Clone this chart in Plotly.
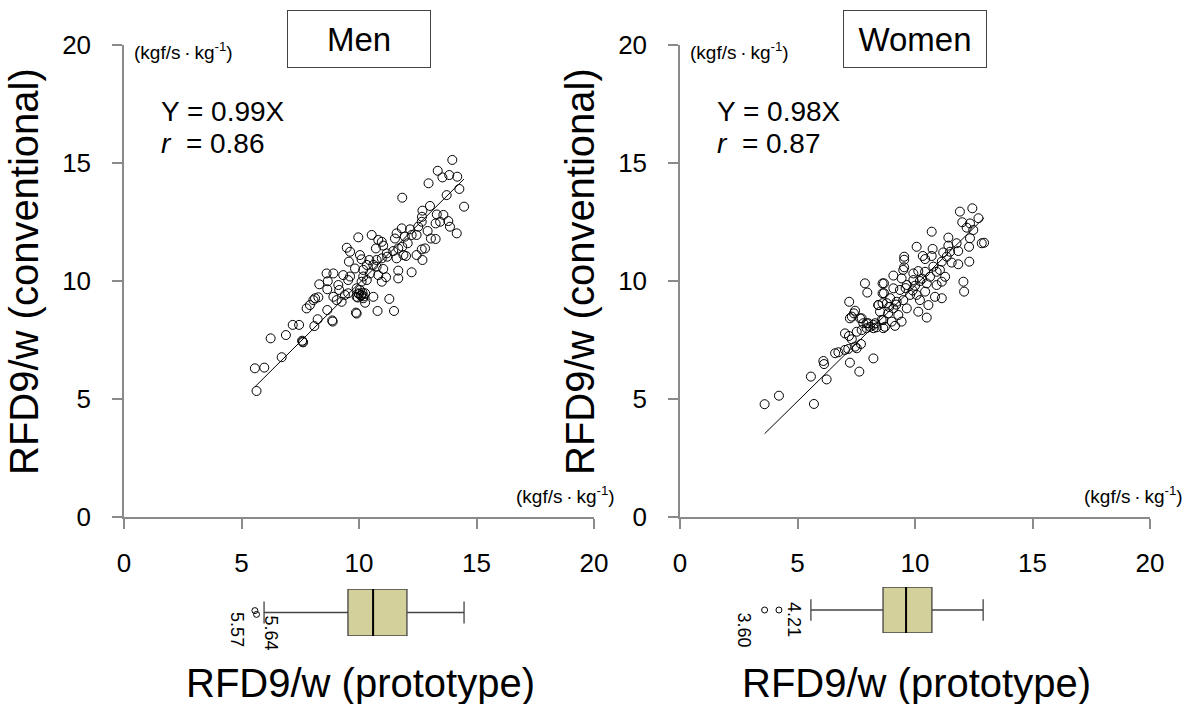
import plotly.graph_objects as go

FONT = "Liberation Sans, Arial, sans-serif"

# ---------------- data ----------------
men_x = [13.97, 13.35, 13.55, 13.84, 14.18, 12.96, 14.27, 13.73, 11.84, 14.47, 13.02, 12.7, 12.68, 12.67,
         13.31, 13.59, 13.26, 13.45, 13.8, 13.87, 14.16, 12.92, 13.06, 13.26, 12.52, 12.17, 12.24, 12.45,
         11.95, 11.82, 11.6, 11.53, 12.07, 11.84, 11.67, 11.46, 11.89, 12.67, 12.81, 12.45, 12.7, 12.0,
         11.6, 12.24, 11.67, 11.67, 11.18, 11.2, 10.97, 10.75, 10.54, 10.82, 10.97, 11.03, 10.72, 9.97,
         9.48, 9.62, 10.04, 10.11, 10.44, 10.61, 10.75, 10.33, 9.57, 9.83, 10.18, 10.47, 10.82, 11.03,
         10.97, 11.15, 10.18, 10.33, 10.11, 9.9, 10.04, 9.97, 10.11, 10.26, 9.9, 10.18, 10.61, 10.26,
         11.29, 10.79, 11.49, 9.87, 9.62, 9.33, 9.54, 8.62, 8.91, 8.67, 8.31, 9.12, 9.16, 8.65, 8.91,
         9.05, 9.26, 9.4, 9.54, 8.27, 8.06, 7.91, 7.77, 8.65, 8.24, 8.88, 8.1, 7.18, 7.45, 6.89, 6.24,
         7.6, 7.58, 7.62, 6.71, 5.57, 5.97, 5.64, 10.0, 10.08, 10.15, 9.95, 10.2, 8.13, 9.9, 8.86]
men_y = [15.13, 14.67, 14.39, 14.49, 14.42, 14.14, 13.9, 13.64, 13.53, 13.15, 13.18, 12.98, 12.72, 12.51,
         12.82, 12.8, 12.44, 12.51, 12.54, 12.3, 12.02, 12.12, 11.8, 11.78, 12.3, 12.19, 11.95, 11.95,
         11.88, 12.23, 12.02, 11.8, 11.6, 11.45, 11.38, 11.27, 11.1, 11.34, 11.38, 11.1, 10.89, 11.06,
         10.96, 10.37, 10.44, 10.11, 11.17, 11.03, 10.96, 10.89, 11.95, 11.74, 11.66, 11.5, 11.38, 11.85,
         11.41, 11.24, 11.1, 10.92, 10.89, 10.68, 10.61, 10.68, 10.82, 10.53, 10.47, 10.32, 10.25, 10.51,
         9.97, 10.16, 10.19, 10.04, 9.97, 9.69, 9.62, 9.48, 9.41, 9.48, 9.33, 9.27, 9.33, 9.08,
         9.24, 8.73, 8.73, 8.66, 10.19, 10.25, 10.04, 10.32, 10.32, 9.99, 9.86, 9.83, 9.62, 9.65, 9.33,
         9.19, 9.12, 9.41, 9.48, 9.31, 9.19, 8.98, 8.84, 8.77, 8.38, 8.28, 8.09, 8.14, 8.14, 7.71, 7.57,
         7.43, 7.47, 7.4, 6.77, 6.3, 6.33, 5.34, 9.45, 9.38, 9.5, 9.3, 9.35, 9.27, 8.62, 8.33]

women_x = [3.60, 4.21, 5.7, 5.57, 6.24, 6.1, 6.13, 6.6, 6.74, 7.02, 7.16, 7.23, 7.63, 8.23, 7.45, 7.7,
           7.52, 7.02, 7.19, 7.31, 7.52, 7.73, 7.94, 8.09, 8.23, 8.37, 7.8, 8.01, 7.23, 7.4, 7.45, 7.31,
           7.66, 7.2, 7.87, 7.97, 8.62, 8.62, 8.44, 8.62, 8.58, 8.65,
           12.44, 11.91, 12.7, 12.01, 12.34, 12.2, 12.48, 10.71, 11.42, 11.77, 12.34, 12.84, 12.94, 12.3,
           10.07, 10.75, 10.71, 10.33, 10.43, 11.42, 11.49, 11.2, 11.84, 11.35, 11.14, 11.56, 11.84, 12.31,
           9.54, 9.54, 9.54, 9.5, 9.08, 9.43, 9.93, 10.14, 10.43, 10.78, 10.92, 11.06, 10.64, 11.28, 11.14,
           12.06, 12.09, 9.93, 10.21, 10.5, 10.92, 9.65, 9.36, 9.08, 8.68, 8.68, 8.94, 9.79, 10.07, 10.43,
           10.85, 11.14, 10.57, 10.21, 9.5, 9.22, 8.8, 8.44, 9.08, 9.65, 10.14, 10.5, 8.51, 8.86, 9.29,
           8.65, 9.01, 8.3, 7.94, 7.73, 8.23, 8.72, 9.15, 9.43, 9.6, 9.9, 10.3, 10.0, 9.2, 8.9]
women_y = [4.78, 5.14, 4.79, 5.95, 5.83, 6.61, 6.48, 6.94, 6.98, 7.08, 7.12, 6.54, 6.16, 6.72, 7.22, 7.33,
           7.15, 7.78, 7.67, 7.53, 7.85, 7.92, 8.0, 8.06, 8.14, 8.04, 8.21, 8.21, 8.42, 8.63, 8.74, 8.49,
           8.42, 9.12, 9.9, 9.51, 9.9, 9.48, 8.98, 9.06, 8.35, 8.0,
           13.08, 12.94, 12.66, 12.49, 12.44, 12.26, 12.16, 12.09, 11.84, 11.6, 11.81, 11.6, 11.62, 11.45,
           11.45, 11.36, 11.06, 11.06, 10.93, 11.5, 11.24, 11.21, 11.27, 11.03, 10.82, 10.78, 10.71, 10.82,
           11.03, 10.9, 10.58, 10.47, 10.23, 10.11, 10.32, 10.42, 10.39, 10.61, 10.39, 10.47, 10.18, 10.18, 9.97,
           9.97, 9.55, 10.04, 10.0, 9.9, 9.83, 9.83, 9.62, 9.69, 9.9, 9.48, 9.27, 9.41, 9.41, 9.55,
           9.33, 9.27, 8.98, 9.19, 9.19, 9.12, 9.06, 8.98, 8.84, 8.84, 8.7, 8.45, 8.7, 8.63, 8.56,
           8.35, 8.28, 8.21, 8.21, 8.42, 8.0, 8.06, 8.1, 8.28, 9.7, 9.6, 10.1, 9.8, 9.0, 8.9]

men_slope, men_r = 0.99, 0.86
women_slope, women_r = 0.98, 0.87

# box-plot statistics (prototype)
men_box = dict(q1=9.53, median=10.6, q3=12.04, low=5.96, high=14.47)
women_box = dict(q1=8.64, median=9.62, q3=10.72, low=5.57, high=12.9)
men_outliers = [5.57, 5.64]
women_outliers = [3.60, 4.21]

x_ticks = [0, 5, 10, 15, 20]
y_ticks = [0, 5, 10, 15, 20]
unit = "(kgf/s\u2009·\u2009kg<sup>-1</sup>)"
y_title = "RFD9/w (conventional)"
x_title = "RFD9/w (prototype)"

W, H = 1190, 704


def px(x):
    return x / W


def py(y):
    return 1 - y / H


fig = go.Figure()

panels = [
    ("Men", men_x, men_y, men_slope, men_r, men_box, men_outliers, 1, 124, 617),
    ("Women", women_x, women_y, women_slope, women_r, women_box, women_outliers, 2, 680, 1185),
]


def ann(x, y, text, size, xanchor="center", yanchor="middle", **kw):
    d = dict(x=px(x), y=py(y), xref="paper", yref="paper", text=text, showarrow=False,
             xanchor=xanchor, yanchor=yanchor,
             font=dict(family=FONT, size=size, color="black"))
    d.update(kw)
    return d


annotations = []
for name, xs, ys, slope, r, bx, outl, i, x0, unit_right in panels:
    xa = "x" if i == 1 else "x2"
    ya = "y" if i == 1 else "y2"
    xb = "x3" if i == 1 else "x4"
    yb = "y3" if i == 1 else "y4"
    fig.add_trace(go.Scatter(x=xs, y=ys, mode="markers", xaxis=xa, yaxis=ya,
                             marker=dict(symbol="circle-open", size=9, color="black",
                                         line=dict(width=1, color="black")),
                             showlegend=False, hoverinfo="x+y"))
    lx = [min(xs), max(xs)]
    fig.add_trace(go.Scatter(x=lx, y=[slope * v for v in lx], mode="lines", xaxis=xa, yaxis=ya,
                             line=dict(color="black", width=1), showlegend=False))
    # box plot
    fig.add_trace(go.Box(y=[0], q1=[bx["q1"]], median=[bx["median"]], q3=[bx["q3"]],
                         lowerfence=[bx["low"]], upperfence=[bx["high"]],
                         orientation="h", xaxis=xb, yaxis=yb, width=1, whiskerwidth=0.47,
                         fillcolor="#D4D09B", line=dict(color="#444444", width=1.3),
                         boxpoints=False, showlegend=False))
    fig.add_trace(go.Scatter(x=[bx["median"], bx["median"]], y=[-0.5, 0.5], mode="lines",
                             xaxis=xb, yaxis=yb, line=dict(color="black", width=2), showlegend=False))
    fig.add_trace(go.Scatter(x=outl, y=[0.04 * (1 if i == 1 else 0), -0.04 * (1 if i == 1 else 0)],
                             mode="markers", xaxis=xb, yaxis=yb,
                             marker=dict(symbol="circle-open", size=6, color="black",
                                         line=dict(width=1, color="black")),
                             showlegend=False))
    # outlier labels (rotated)
    for k, v in enumerate(outl):
        if i == 1:
            xo = x0 + v * 23.5 + (-18 if k == 0 else 14)
            yo = 630 if k == 0 else 633
        else:
            xo = x0 + v * 23.5 + (-21 if k == 0 else 15)
            yo = 630 if k == 0 else 620
        annotations.append(ann(xo, yo, f"{v:.2f}", 18, textangle=90))
    # title box
    annotations.append(ann(x0 + 235, 39, name, 33, width=138, height=52,
                           bordercolor="#444444", borderwidth=1, borderpad=2))
    # units
    annotations.append(ann(x0 + 8, 51, unit, 19, xanchor="left"))
    annotations.append(ann(unit_right, 495, unit, 19, xanchor="right"))
    # equation
    annotations.append(ann(x0 + 35, 112, f"Y = {slope:.2f}X", 28, xanchor="left"))
    annotations.append(ann(x0 + 35, 143, f"<i>r</i>  = {r:.2f}", 28, xanchor="left"))
    # axis titles
    annotations.append(ann(x0 - 100, 272, y_title, 40, textangle=-90))
    annotations.append(ann(x0 + 236, 683, x_title, 40))

ax_common = dict(range=[0, 20], showgrid=False, zeroline=False,
                 showline=True, linecolor="#8a8a8a", linewidth=1.5, ticks="outside",
                 ticklen=10, tickcolor="#8a8a8a", tickwidth=1.5, automargin=False,
                 tickfont=dict(family=FONT, size=26, color="black"), fixedrange=True)
x_ax = dict(tickvals=x_ticks, ticklabelstandoff=12, **ax_common)
y_ax = dict(tickvals=y_ticks, ticklabelstandoff=16, **ax_common)
ydom = [py(517), py(45)]

fig.update_layout(
    width=W, height=H, margin=dict(l=0, r=0, t=0, b=0, autoexpand=False),
    paper_bgcolor="white", plot_bgcolor="white",
    xaxis=dict(domain=[px(124), px(594)], anchor="y", **x_ax),
    yaxis=dict(domain=ydom, anchor="x", **y_ax),
    xaxis2=dict(domain=[px(680), px(1150)], anchor="y2", **x_ax),
    yaxis2=dict(domain=ydom, anchor="x2", **y_ax),
    xaxis3=dict(domain=[px(124), px(594)], anchor="y3", range=[0, 20], visible=False, automargin=False),
    yaxis3=dict(domain=[py(636), py(589)], anchor="x3", range=[-0.5, 0.5], visible=False, automargin=False),
    xaxis4=dict(domain=[px(680), px(1150)], anchor="y4", range=[0, 20], visible=False, automargin=False),
    yaxis4=dict(domain=[py(633), py(587)], anchor="x4", range=[-0.5, 0.5], visible=False, automargin=False),
    annotations=annotations,
    showlegend=False,
)

fig.write_html("out.html")
